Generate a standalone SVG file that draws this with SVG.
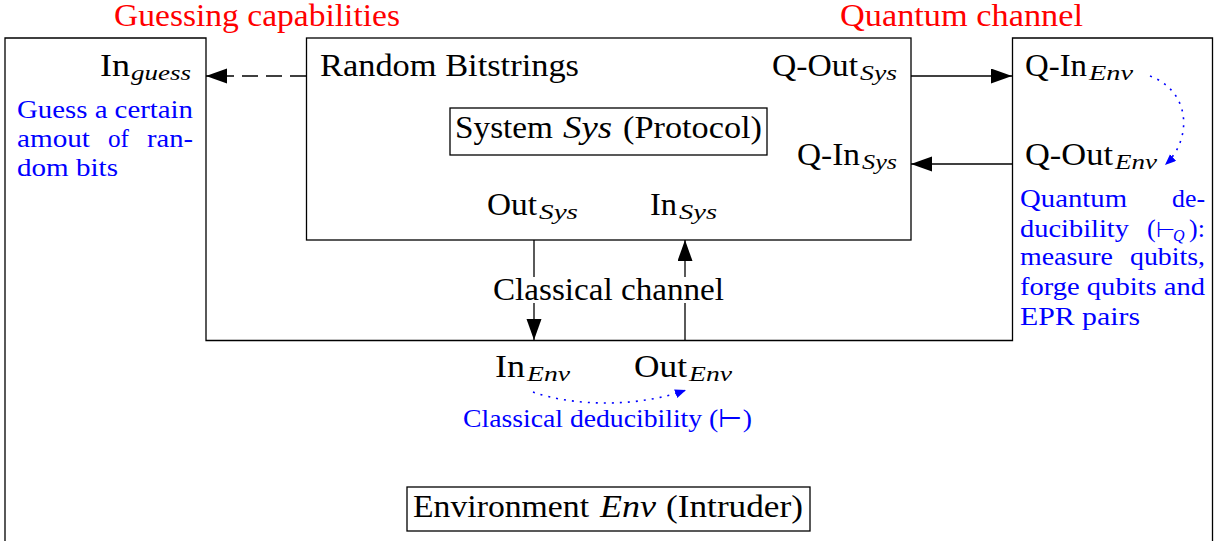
<svg xmlns="http://www.w3.org/2000/svg" width="1218" height="541" viewBox="0 0 1218 541">
<style>
text{font-family:'Liberation Serif','Times New Roman',serif;fill:#000}
.m{font-size:31px}
.s{font-size:21px;font-style:italic}
.i{font-style:italic}
.red{fill:#ff0000;font-size:31px}
.blue{fill:#0000ff;font-size:26px}
.box{fill:none;stroke:#000;stroke-width:1.3}
.ln{fill:none;stroke:#000;stroke-width:1.3}
.dot{fill:none;stroke:#0000ff;stroke-width:1.6;stroke-dasharray:2 6}
</style>
<defs>
<marker id="ah" markerUnits="userSpaceOnUse" markerWidth="22" markerHeight="16" refX="21" refY="7.5" orient="auto"><path d="M0,0 L21,7.5 L0,15 z" fill="#000"/></marker>
<marker id="bh" markerUnits="userSpaceOnUse" markerWidth="12" markerHeight="10" refX="11" refY="4.5" orient="auto"><path d="M0,0 L11,4.5 L0,9 z" fill="#0000ff"/></marker>
</defs>
<rect width="1218" height="541" fill="#fff"/>

<g id="env">
<path class="box" d="M5,545 V38 H206 V340.5 H1012.5 V38 H1212.5 V545"/>
<text class="red" x="114" y="26" textLength="286" lengthAdjust="spacingAndGlyphs">Guessing capabilities</text>
<text class="red" x="840" y="26" textLength="243" lengthAdjust="spacingAndGlyphs">Quantum channel</text>
<text class="m" x="100" y="76" textLength="30" lengthAdjust="spacingAndGlyphs">In</text>
<text class="s" x="131" y="80" textLength="60" lengthAdjust="spacingAndGlyphs">guess</text>
<text class="blue" x="17" y="118" textLength="176" lengthAdjust="spacingAndGlyphs">Guess a certain</text>
<text class="blue" x="17" y="147" textLength="73" lengthAdjust="spacingAndGlyphs">amout</text>
<text class="blue" x="108" y="147" textLength="21" lengthAdjust="spacingAndGlyphs">of</text>
<text class="blue" x="147" y="147" textLength="46" lengthAdjust="spacingAndGlyphs">ran-</text>
<text class="blue" x="17" y="176" textLength="101" lengthAdjust="spacingAndGlyphs">dom bits</text>
<text class="m" x="1025" y="76" textLength="62" lengthAdjust="spacingAndGlyphs">Q-In</text>
<text class="s" x="1089" y="80" textLength="44" lengthAdjust="spacingAndGlyphs">Env</text>
<text class="m" x="1025" y="165" textLength="88" lengthAdjust="spacingAndGlyphs">Q-Out</text>
<text class="s" x="1115" y="169" textLength="42" lengthAdjust="spacingAndGlyphs">Env</text>
<text class="blue" x="1020" y="207" textLength="107" lengthAdjust="spacingAndGlyphs">Quantum</text>
<text class="blue" x="1172" y="207" textLength="33" lengthAdjust="spacingAndGlyphs">de-</text>
<text class="blue" x="1020" y="237" textLength="109" lengthAdjust="spacingAndGlyphs">ducibility</text>
<text class="blue" x="1147" y="237">(<tspan x="1156" style="font-size:22px">⊢</tspan><tspan x="1173" dy="4" style="font-size:16px;font-style:italic">Q</tspan><tspan x="1189" dy="-4">):</tspan></text>
<text class="blue" x="1020" y="265" textLength="93" lengthAdjust="spacingAndGlyphs">measure</text>
<text class="blue" x="1130" y="265" textLength="75" lengthAdjust="spacingAndGlyphs">qubits,</text>
<text class="blue" x="1020" y="295" textLength="185" lengthAdjust="spacingAndGlyphs">forge qubits and</text>
<text class="blue" x="1020" y="325" textLength="120" lengthAdjust="spacingAndGlyphs">EPR pairs</text>
<text class="m" x="495" y="377" textLength="30" lengthAdjust="spacingAndGlyphs">In</text>
<text class="s" x="527" y="381" textLength="43" lengthAdjust="spacingAndGlyphs">Env</text>
<text class="m" x="634" y="377" textLength="53" lengthAdjust="spacingAndGlyphs">Out</text>
<text class="s" x="689" y="381" textLength="43" lengthAdjust="spacingAndGlyphs">Env</text>
<text class="blue" x="463" y="427" textLength="289" lengthAdjust="spacingAndGlyphs">Classical deducibility (⊢)</text>
</g>

<g id="env-label">
<rect class="box" x="407" y="487" width="403" height="44"/>
<text class="m" x="413" y="517" textLength="176" lengthAdjust="spacingAndGlyphs">Environment</text>
<text class="m i" x="600" y="517" textLength="56" lengthAdjust="spacingAndGlyphs">Env</text>
<text class="m" x="666" y="517" textLength="137" lengthAdjust="spacingAndGlyphs">(Intruder)</text>
</g>

<g id="sys">
<rect class="box" x="306.5" y="38" width="604.5" height="202"/>
<text class="m" x="320" y="76" textLength="259" lengthAdjust="spacingAndGlyphs">Random Bitstrings</text>
<text class="m" x="772" y="76" textLength="86" lengthAdjust="spacingAndGlyphs">Q-Out</text>
<text class="s" x="860" y="80" textLength="37" lengthAdjust="spacingAndGlyphs">Sys</text>
<text class="m" x="797" y="165" textLength="63" lengthAdjust="spacingAndGlyphs">Q-In</text>
<text class="s" x="862" y="169" textLength="35" lengthAdjust="spacingAndGlyphs">Sys</text>
<text class="m" x="487" y="215" textLength="50" lengthAdjust="spacingAndGlyphs">Out</text>
<text class="s" x="539" y="219" textLength="39" lengthAdjust="spacingAndGlyphs">Sys</text>
<text class="m" x="650" y="215" textLength="27" lengthAdjust="spacingAndGlyphs">In</text>
<text class="s" x="679" y="219" textLength="38" lengthAdjust="spacingAndGlyphs">Sys</text>
</g>

<g id="sys-label">
<rect class="box" x="450" y="108" width="317" height="47"/>
<text class="m" x="455" y="138" textLength="98" lengthAdjust="spacingAndGlyphs">System</text>
<text class="m i" x="563" y="138" textLength="49" lengthAdjust="spacingAndGlyphs">Sys</text>
<text class="m" x="623" y="138" textLength="139" lengthAdjust="spacingAndGlyphs">(Protocol)</text>
</g>

<g id="connectors">
<line class="ln" x1="306" y1="76" x2="206" y2="76" stroke-dasharray="16 8" marker-end="url(#ah)"/>
<line class="ln" x1="911" y1="76" x2="1012" y2="76" marker-end="url(#ah)"/>
<line class="ln" x1="1012" y1="164" x2="911" y2="164" marker-end="url(#ah)"/>
<line class="ln" x1="534" y1="240" x2="534" y2="340" marker-end="url(#ah)"/>
<line class="ln" x1="685" y1="340" x2="685" y2="240" marker-end="url(#ah)"/>
<rect x="487" y="277" width="244" height="26" fill="#fff"/>
<text class="m" x="493" y="300" textLength="231" lengthAdjust="spacingAndGlyphs">Classical channel</text>
<path class="dot" d="M1150,76 C1192,92 1192,140 1165,165" marker-end="url(#bh)"/>
<path class="dot" d="M533,392 C575,407 640,407 686,390" marker-end="url(#bh)"/>
</g>
</svg>
